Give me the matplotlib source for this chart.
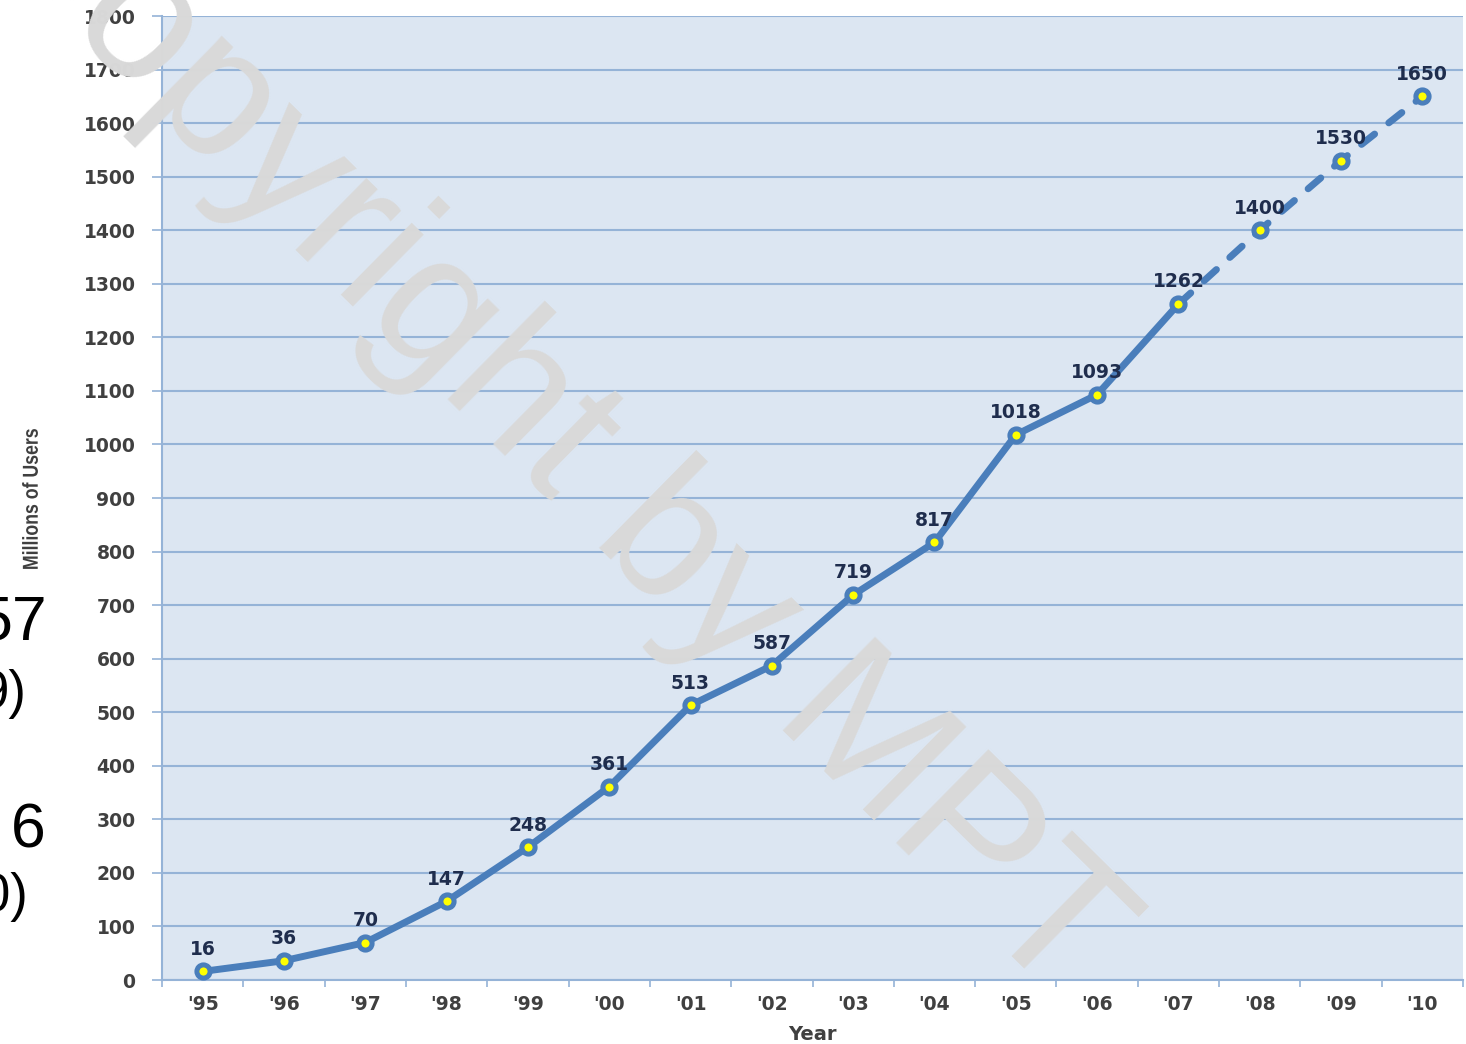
"""
Internet users growth chart (millions of users, 1995-2010).
Saves out.png at 1466x1044.
"""

import matplotlib.pyplot as plt
from matplotlib.font_manager import FontProperties
from matplotlib.patches import PathPatch
from matplotlib.textpath import TextPath
from matplotlib.ticker import FixedLocator
from matplotlib.transforms import Affine2D

YEARS = ["'95", "'96", "'97", "'98", "'99", "'00", "'01", "'02",
         "'03", "'04", "'05", "'06", "'07", "'08", "'09", "'10"]
USERS = [16, 36, 70, 147, 248, 361, 513, 587, 719, 817, 1018, 1093,
         1262, 1400, 1530, 1650]
LAST_ACTUAL = 12  # '07 -- after this the line is a dashed projection

Y_TICKS = list(range(0, 1801, 100))

LINE_BLUE = "#4a7ebb"
GRID_BLUE = "#95b3d7"
BG_BLUE = "#dce6f2"
TICK_GRAY = "#404040"
LABEL_NAVY = "#1f2d4d"
WATERMARK = "#d9d9d9"

W, H = 1466, 1044

fig = plt.figure(figsize=(W / 100, H / 100), dpi=100)
ax = fig.add_axes([162 / W, 64 / H, 1301 / W, 964 / H])
ax.set_facecolor(BG_BLUE)

x = list(range(len(YEARS)))

ax.plot(x[:LAST_ACTUAL + 1], USERS[:LAST_ACTUAL + 1], color=LINE_BLUE,
        lw=5, solid_capstyle="round", zorder=3)
ax.plot(x[LAST_ACTUAL:], USERS[LAST_ACTUAL:], color=LINE_BLUE, lw=5,
        linestyle=(0, (2.4, 2.6)), dash_capstyle="round", zorder=3)
ax.plot(x, USERS, linestyle="none", marker="o", ms=9.5, mew=3.6,
        mfc="#ffff00", mec=LINE_BLUE, zorder=4)

for xi, v in zip(x, USERS):
    ax.annotate(str(v), (xi, v), xytext=(0, 12), textcoords="offset points",
                ha="center", va="baseline", fontsize=13.5, fontweight="bold",
                family="DejaVu Sans", color=LABEL_NAVY, zorder=5)

ax.set_xlim(-0.5, len(YEARS) - 0.5)
ax.set_ylim(0, 1800)

ax.set_yticks(Y_TICKS)
ax.set_yticklabels([str(t) for t in Y_TICKS])
ax.set_xticks(x)
ax.set_xticklabels(YEARS)
ax.xaxis.set_minor_locator(FixedLocator([i - 0.5 for i in range(len(YEARS) + 1)]))

ax.tick_params(axis="y", which="major", length=7, width=1.2, color=GRID_BLUE,
               pad=12, labelsize=13.5, labelcolor=TICK_GRAY)
ax.tick_params(axis="x", which="major", length=0, pad=11,
               labelsize=13.5, labelcolor=TICK_GRAY)
ax.tick_params(axis="x", which="minor", length=5, width=1.2, color=GRID_BLUE)
for lab in ax.get_xticklabels() + ax.get_yticklabels():
    lab.set_fontweight("bold")
    lab.set_family("DejaVu Sans")

ax.grid(axis="y", color=GRID_BLUE, lw=1.5)
ax.set_axisbelow(True)
for side in ["top", "right"]:
    ax.spines[side].set_visible(False)
for side in ["left", "bottom"]:
    ax.spines[side].set_color(GRID_BLUE)
    ax.spines[side].set_linewidth(1.5)

fig.text((162 + 1463) / 2 / W, 1 - 1035 / H, "Year", ha="center", va="center",
         fontsize=14, fontweight="bold", family="DejaVu Sans", color=TICK_GRAY)

# condensed bold y label: squeeze a text path horizontally, then stand it up
tp = TextPath((0, 0), "Millions of Users", size=21.6,
              prop=FontProperties(family="Liberation Sans", weight="bold"))
bb = tp.get_extents()
tr = (Affine2D()
      .translate(-(bb.x0 + bb.x1) / 2, -(bb.y0 + bb.y1) / 2)
      .scale(0.82, 1)
      .rotate_deg(90)
      .translate(30, H - 499))
fig.add_artist(PathPatch(tp, transform=tr, facecolor=TICK_GRAY, lw=0))

# cropped fragments of neighbouring slide text on the far left
fig.text(47 / W, 1 - 640 / H, "57", ha="right", va="baseline", fontsize=45,
         family="Liberation Sans", color="black")
fig.text(26 / W, 1 - 708 / H, "9)", ha="right", va="baseline", fontsize=38,
         family="Liberation Sans", color="black")
fig.text(46 / W, 1 - 848 / H, "6", ha="right", va="baseline", fontsize=45,
         family="Liberation Sans", color="black")
fig.text(28 / W, 1 - 911 / H, "0)", ha="right", va="baseline", fontsize=38,
         family="Liberation Sans", color="black")

fig.text(513 / W, 1 - 465 / H, "Copyright by MPT", rotation=-44.6,
         rotation_mode="anchor", ha="center", va="baseline", fontsize=138,
         family="Liberation Sans", color=WATERMARK, zorder=10)

fig.savefig("out.png", dpi=100)
